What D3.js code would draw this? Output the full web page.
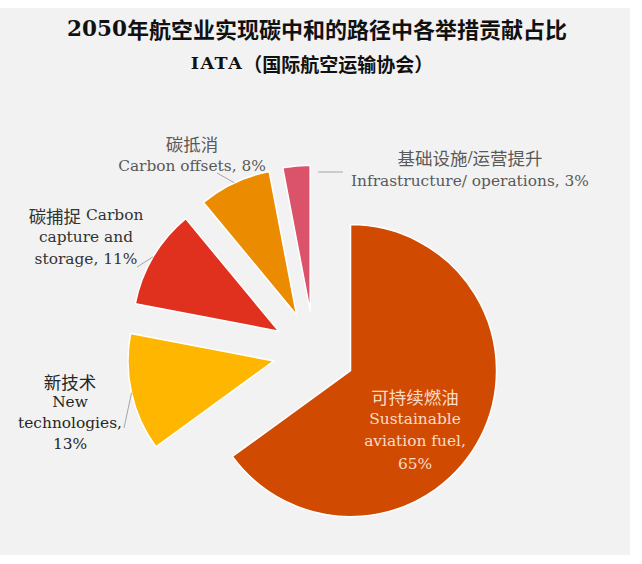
<!DOCTYPE html>
<html>
<head>
<meta charset="utf-8">
<script src="https://cdn.jsdelivr.net/npm/d3@7"></script>
<style>
  body { margin: 0; background: #ffffff; }
</style>
</head>
<body>
<div id="chart"></div>
<script>
// Data
// =================================
var titleYear = "2050";
var titleText = "年航空业实现碳中和的路径中各举措贡献占比";
var subtitleOrg = "IATA";
var subtitleText = "（国际航空运输协会）";

// categories clockwise from 12 o'clock
var categories = ["saf", "newTech", "ccs", "offsets", "infra"];
var shareValues = [65, 13, 11, 8, 3];
var labelLines = [
    ["可持续燃油", "Sustainable", "aviation fuel,"],
    ["新技术", "New", "technologies,"],
    ["碳捕捉 Carbon", "capture and", "storage,"],
    ["碳抵消", "Carbon offsets,"],
    ["基础设施/运营提升", "Infrastructure/ operations,"]
];

// Styles / layout
// =================================
var palette = ["#d04a02", "#ffb600", "#e0301e", "#eb8c00", "#db536a"];

var svgWidth = 642;
var svgHeight = 564;

var center = { x: 314, y: 352 };
var radius = 146;
var explode = 41;

var serif = "'DejaVu Serif', Georgia, serif";
var cjk = "'Noto Sans CJK SC', sans-serif";
var latinSize = 15.4;
var cjkSize = 17.5;

// label placement, one per category
var labelLayout = {
    saf:     { x: 415, y: 396, lh: 22.5, color: "#fcdcc6", pctOwnLine: true },
    newTech: { x: 70,  y: 381, lh: 21,   color: "#262626", pctOwnLine: true,
               leader: [124, 428] },
    ccs:     { x: 86,  y: 215, lh: 22,   color: "#333333", pctOwnLine: false,
               leader: [137, 267] },
    offsets: { x: 192, y: 143, lh: 23,   color: "#595959", pctOwnLine: false,
               leader: [217, 173] },
    infra:   { x: 470, y: 157, lh: 24,   color: "#595959", pctOwnLine: false,
               leader: [343, 172], leaderAtEnd: true }
};

var svg = d3.select("#chart")
    .append("svg")
    .attr("width", svgWidth)
    .attr("height", svgHeight);

// grey panel
svg.append("rect")
    .attr("x", 0)
    .attr("y", 8)
    .attr("width", 630)
    .attr("height", 547)
    .attr("fill", "#f2f2f2");

// split a string into cjk / latin runs so each gets its own font
function runs(str) {
    var out = [];
    var re = /[\u2E80-\u9FFF\uFF00-\uFFEF]/;
    str.split("").forEach(function(ch) {
        var isCjk = re.test(ch);
        var last = out[out.length - 1];
        if (last && last.cjk === isCjk) last.t += ch;
        else out.push({ t: ch, cjk: isCjk });
    });
    return out;
}

function addLine(sel, str, x, y, fill) {
    var t = sel.append("text")
        .attr("x", x)
        .attr("y", y)
        .attr("text-anchor", "middle")
        .attr("dominant-baseline", "central")
        .attr("fill", fill);
    runs(str).forEach(function(r) {
        t.append("tspan")
            .attr("font-family", r.cjk ? cjk : serif)
            .attr("font-size", r.cjk ? cjkSize : latinSize)
            .text(r.t);
    });
    return t;
}

// Title
// =================================
var title = svg.append("text")
    .attr("x", 317)
    .attr("y", 28)
    .attr("text-anchor", "middle")
    .attr("dominant-baseline", "central")
    .attr("fill", "#111111")
    .attr("font-weight", "bold");
title.append("tspan").attr("font-family", serif).attr("font-size", 21.5).text(titleYear);
title.append("tspan").attr("font-family", cjk).attr("font-size", 22).text(titleText);

var subtitle = svg.append("text")
    .attr("x", 312)
    .attr("y", 63)
    .attr("text-anchor", "middle")
    .attr("dominant-baseline", "central")
    .attr("fill", "#111111")
    .attr("font-weight", "bold");
subtitle.append("tspan").attr("font-family", serif).attr("font-size", 17.5)
    .attr("letter-spacing", 1.5).text(subtitleOrg);
subtitle.append("tspan").attr("font-family", cjk).attr("font-size", 19).text(subtitleText);

// Pie
// =================================
var pie = d3.pie().sort(null).startAngle(0).endAngle(2 * Math.PI);
var arcs = pie(shareValues);

var arc = d3.arc().innerRadius(0).outerRadius(radius);

function sliceOrigin(d) {
    var mid = (d.startAngle + d.endAngle) / 2;
    return [center.x + explode * Math.sin(mid), center.y - explode * Math.cos(mid)];
}

function polar(d, angle, r) {
    var o = sliceOrigin(d);
    return [o[0] + r * Math.sin(angle), o[1] - r * Math.cos(angle)];
}

svg.append("g").selectAll("path")
    .data(arcs)
    .enter()
    .append("path")
    .attr("transform", function(d) {
        var o = sliceOrigin(d);
        return `translate(${o[0]}, ${o[1]})`;
    })
    .attr("d", arc)
    .attr("fill", function(d, i) { return palette[i]; })
    .attr("stroke", "#ffffff")
    .attr("stroke-width", 1.5)
    .attr("stroke-linejoin", "round");

// Leader lines
// =================================
arcs.forEach(function(d, i) {
    var lay = labelLayout[categories[i]];
    if (!lay.leader) return;
    var end;
    if (lay.leaderAtEnd) {
        // thin slice: line stops just right of its edge
        end = polar(d, d.endAngle, radius - 6);
        end[0] += 8;
        end[1] = lay.leader[1];
    } else {
        end = polar(d, (d.startAngle + d.endAngle) / 2, radius);
    }
    svg.append("line")
        .attr("x1", lay.leader[0])
        .attr("y1", lay.leader[1])
        .attr("x2", end[0])
        .attr("y2", end[1])
        .attr("stroke", "#a6a6a6")
        .attr("stroke-width", 1);
});

// Labels
// =================================
var labelGroup = svg.append("g");
categories.forEach(function(key, i) {
    var lay = labelLayout[key];
    var lines = labelLines[i].slice();
    var pct = shareValues[i] + "%";
    if (lay.pctOwnLine) lines.push(pct);
    else lines[lines.length - 1] += " " + pct;
    lines.forEach(function(str, j) {
        addLine(labelGroup, str, lay.x, lay.y + j * lay.lh, lay.color);
    });
});
</script>
</body>
</html>
